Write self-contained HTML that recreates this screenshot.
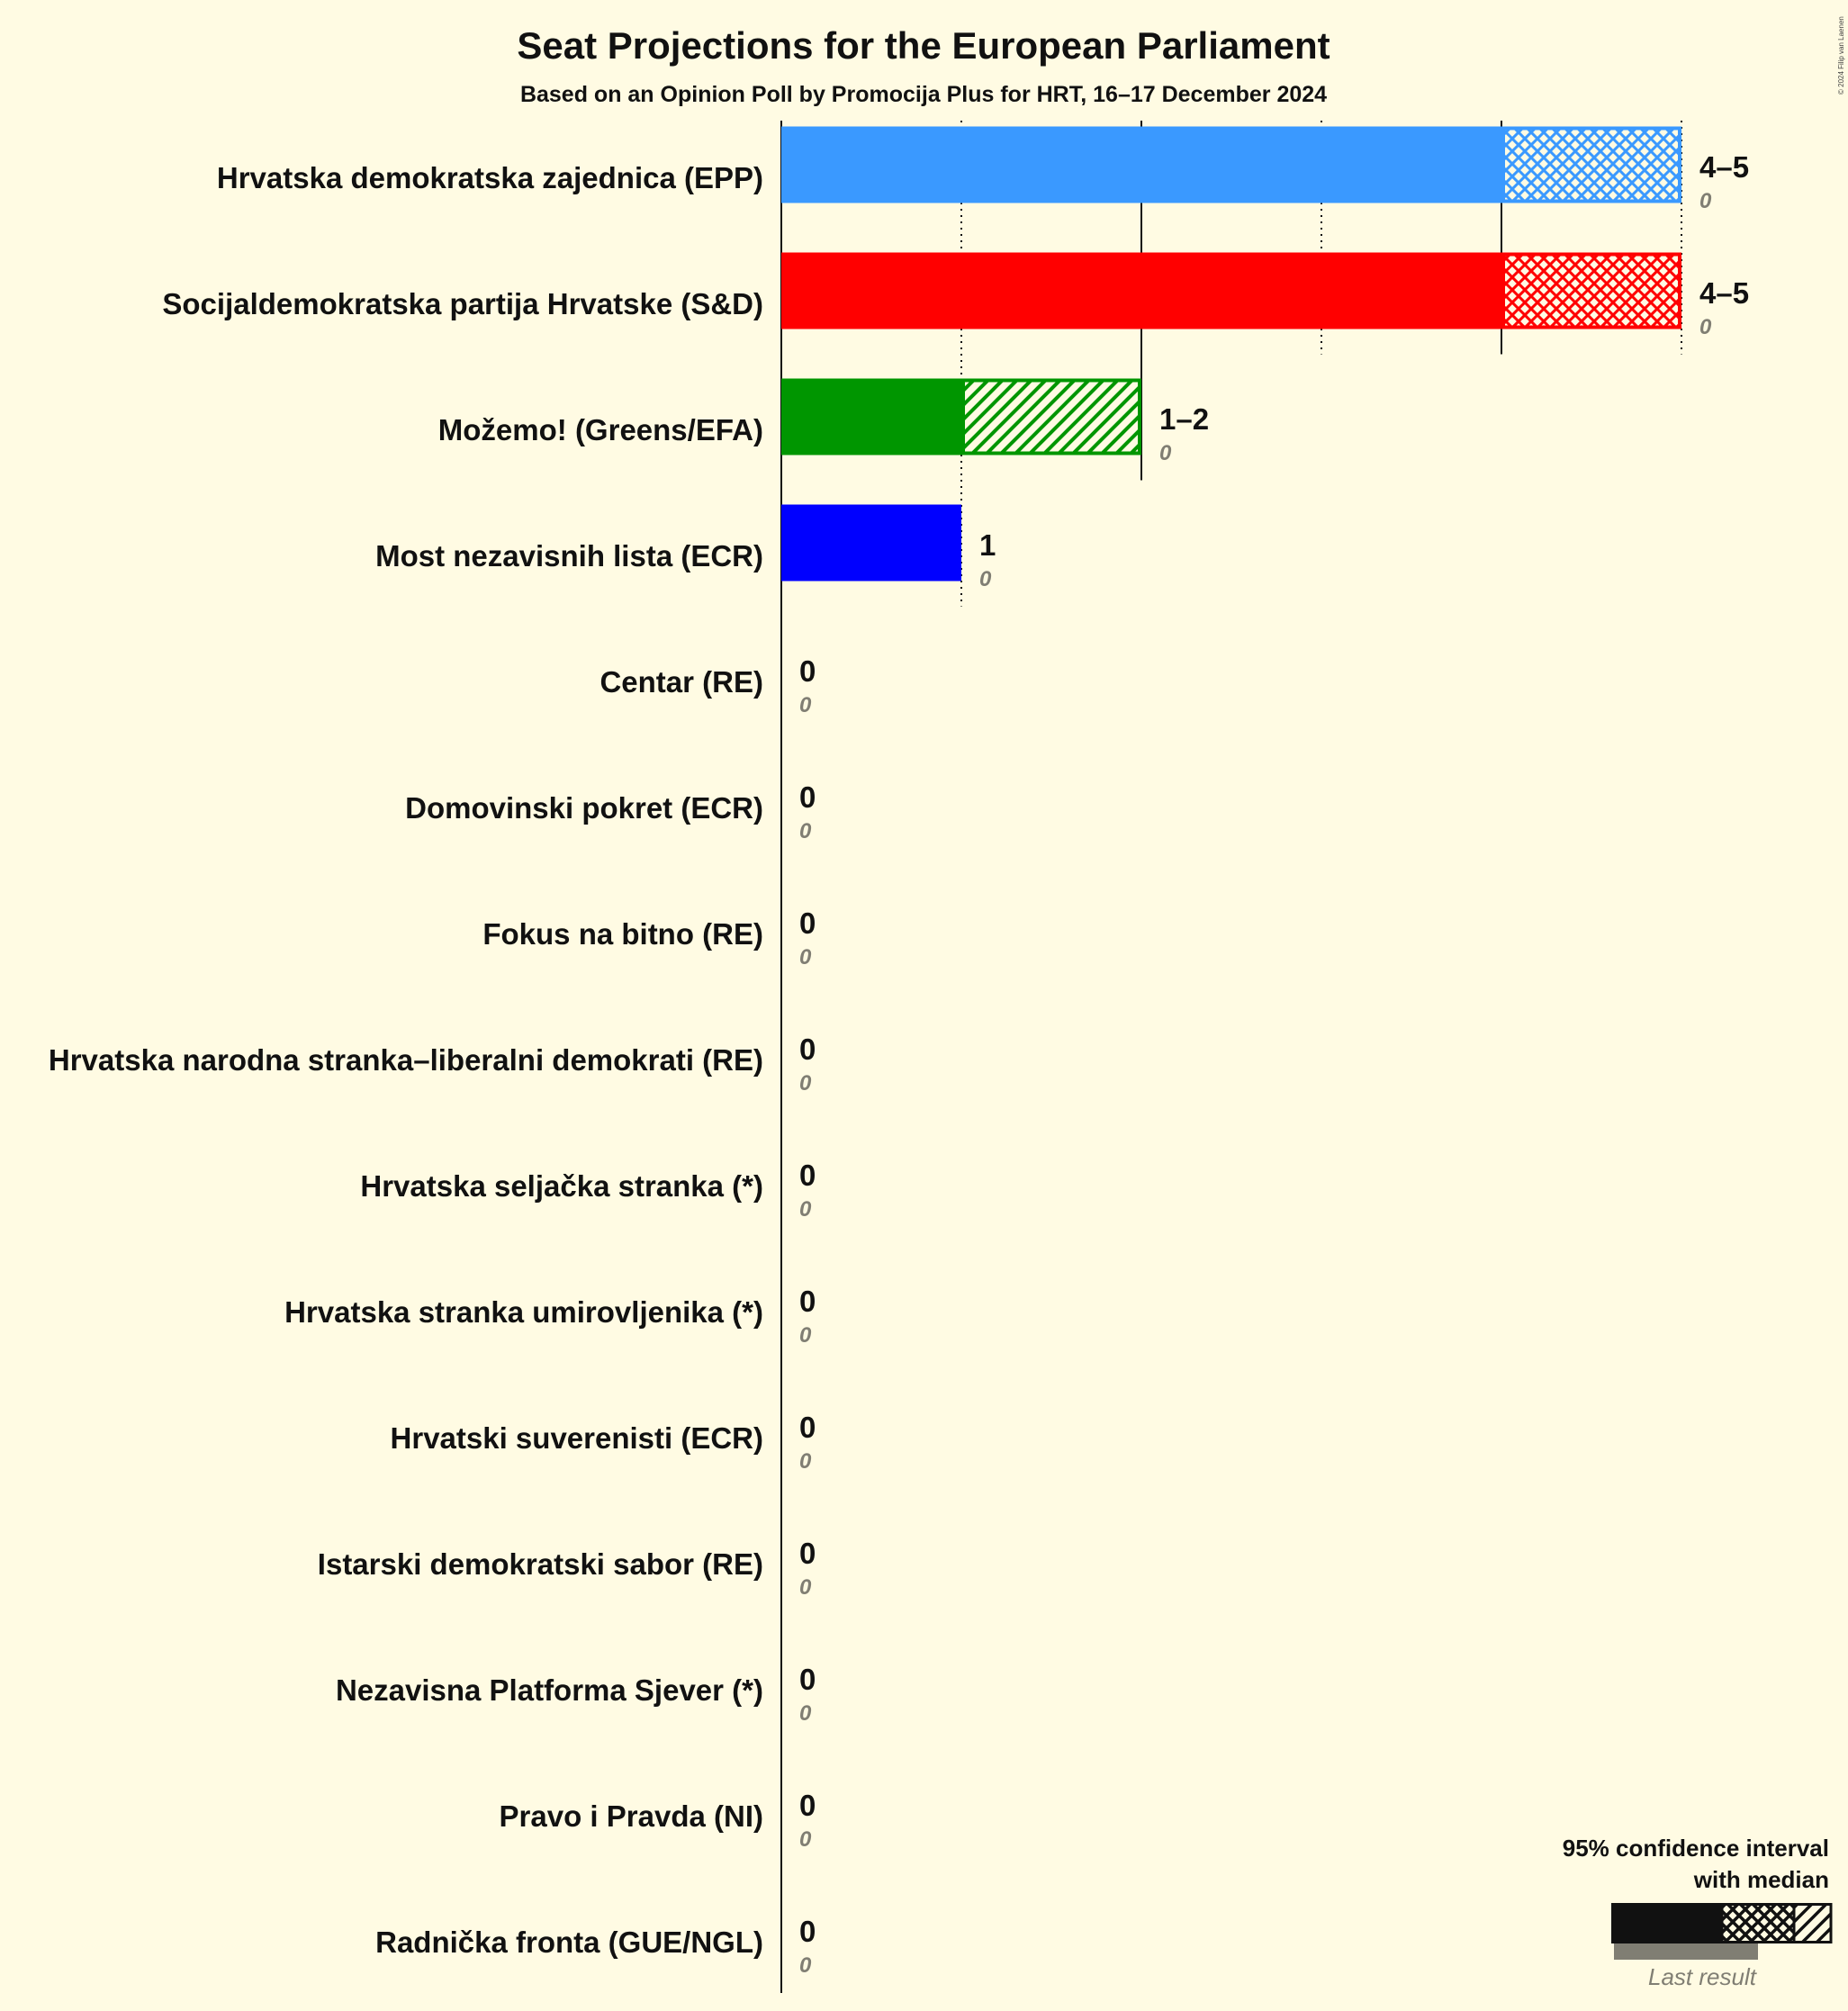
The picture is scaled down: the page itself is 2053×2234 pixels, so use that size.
<!DOCTYPE html>
<html><head><meta charset="utf-8"><style>
html,body{margin:0;padding:0;background:#fffbe3;}
svg{display:block;font-family:"Liberation Sans",sans-serif;}
</style></head><body>
<svg id="chart" width="2053" height="2234" viewBox="0 0 2053 2234">
<defs>
<pattern id="xh-blue" patternUnits="userSpaceOnUse" width="14" height="14"><rect width="14" height="14" fill="#fffbe3"/><path d="M0 0L14 14M14 0L0 14" stroke="#3a99ff" stroke-width="3"/></pattern>
<pattern id="xh-red" patternUnits="userSpaceOnUse" width="14" height="14"><rect width="14" height="14" fill="#fffbe3"/><path d="M0 0L14 14M14 0L0 14" stroke="#ff0000" stroke-width="3"/></pattern>
<pattern id="dh-green" patternUnits="userSpaceOnUse" width="16" height="16"><rect width="16" height="16" fill="#fffbe3"/><path d="M-4 20L20 -4M-4 4L4 -4M12 20L20 12" stroke="#009600" stroke-width="4"/></pattern>
<pattern id="xh-black" patternUnits="userSpaceOnUse" width="14" height="14"><rect width="14" height="14" fill="#fffbe3"/><path d="M0 0L14 14M14 0L0 14" stroke="#111" stroke-width="3.5"/></pattern>
<pattern id="dh-black" patternUnits="userSpaceOnUse" width="16" height="16"><rect width="16" height="16" fill="#fffbe3"/><path d="M-4 20L20 -4M-4 4L4 -4M12 20L20 12" stroke="#111" stroke-width="3.5"/></pattern>
</defs>
<rect width="2053" height="2234" fill="#fffbe3"/>
<text x="1026" y="65" text-anchor="middle" font-size="42" font-weight="bold" fill="#111">Seat Projections for the European Parliament</text>
<text x="1026" y="113" text-anchor="middle" font-size="25" font-weight="bold" fill="#111">Based on an Opinion Poll by Promocija Plus for HRT, 16–17 December 2024</text>
<text transform="translate(2048,105) rotate(-90)" font-size="8" fill="#444">© 2024 Filip van Laenen</text>
<g id="grid"></g>
<g id="bars"></g>
<g id="legend">
<text x="2032" y="2062" text-anchor="end" font-size="26" font-weight="bold" fill="#111">95% confidence interval</text>
<text x="2032" y="2097" text-anchor="end" font-size="26" font-weight="bold" fill="#111">with median</text>
<rect x="1793" y="2159" width="160" height="18" fill="#807e73"/>
<rect x="1790" y="2114" width="123" height="45" fill="#111"/>
<rect x="1913" y="2115.5" width="80" height="42" fill="url(#xh-black)" stroke="#111" stroke-width="3"/>
<rect x="1993" y="2115.5" width="41" height="42" fill="url(#dh-black)" stroke="#111" stroke-width="3"/>
<text x="1891" y="2205" text-anchor="middle" font-size="26" font-style="italic" fill="#807e73">Last result</text>
</g>
</svg>
<script>
const parties = ["Hrvatska demokratska zajednica (EPP)","Socijaldemokratska partija Hrvatske (S&D)","Možemo! (Greens/EFA)","Most nezavisnih lista (ECR)","Centar (RE)","Domovinski pokret (ECR)","Fokus na bitno (RE)","Hrvatska narodna stranka–liberalni demokrati (RE)","Hrvatska seljačka stranka (*)","Hrvatska stranka umirovljenika (*)","Hrvatski suverenisti (ECR)","Istarski demokratski sabor (RE)","Nezavisna Platforma Sjever (*)","Pravo i Pravda (NI)","Radnička fronta (GUE/NGL)"];
const lowSeats = [4,4,1,1,0,0,0,0,0,0,0,0,0,0,0];
const highSeats = [5,5,2,1,0,0,0,0,0,0,0,0,0,0,0];
const hatchType = ["cross","cross","diag","none","none","none","none","none","none","none","none","none","none","none","none"];
const lastResult = [0,0,0,0,0,0,0,0,0,0,0,0,0,0,0];
const rangeLabels = ["4–5","4–5","1–2","1","0","0","0","0","0","0","0","0","0","0","0"];
const colors = ["#3a99ff","#ff0000","#009600","#0000ff","#888","#888","#888","#888","#888","#888","#888","#888","#888","#888","#888"];
const ticks = [0,1,2,3,4,5];

const NS="http://www.w3.org/2000/svg";
const x0=868, seatW=200, rowY0=183, pitch=140, barH=85;
const xs=v=>x0+v*seatW;
const ys=i=>rowY0+i*pitch;
const grid=document.getElementById('grid'), bars=document.getElementById('bars');
function mk(tag,attrs,parent){const e=document.createElementNS(NS,tag);for(const k in attrs)e.setAttribute(k,attrs[k]);parent.appendChild(e);return e;}

ticks.forEach(t=>{
  if(t===0)return;
  let last=-1; highSeats.forEach((h,i)=>{if(h>=t)last=i;});
  if(last<0)return;
  const l=mk('line',{x1:xs(t),x2:xs(t),y1:134,y2:ys(last)+barH/2+28,stroke:'#111','stroke-width':2,'stroke-dasharray':t%2===0?'none':'2,5'},grid);
  
  
});
const ax=mk('line',{x1:x0,x2:x0,y1:134,y2:2214,stroke:'#111','stroke-width':2},grid);



parties.forEach((p,i)=>{
  const cy=ys(i), top=cy-barH/2;
  const lab=mk('text',{x:848,y:cy+26,'text-anchor':'end','font-size':33,'font-weight':'bold',fill:'#111'},bars);
  lab.textContent=p;
  
  
  if(lowSeats[i]>0){
    const r=mk('rect',{x:xs(0),y:top,width:xs(lowSeats[i])-xs(0),height:barH,fill:colors[i]},bars);
    
    
  }
  if(highSeats[i]>lowSeats[i]){
    const fill=hatchType[i]==='diag'?'url(#dh-green)':(i===0?'url(#xh-blue)':'url(#xh-red)');
    const r=mk('rect',{x:xs(lowSeats[i])+2,y:top+2,width:xs(highSeats[i])-xs(lowSeats[i])-4,height:barH-4,fill:fill,stroke:colors[i],'stroke-width':4},bars);
    
    
  }
  if(lastResult[i]>0){
    const r=mk('rect',{x:xs(0),y:top+barH,width:xs(lastResult[i])-xs(0),height:18,fill:'#807e73'},bars);
    
    
  }
  const vx=xs(highSeats[i])+20;
  const v=mk('text',{x:vx,y:cy+14,'font-size':33,'font-weight':'bold',fill:'#111'},bars);
  v.textContent=rangeLabels[i];
  
  
  const lr=mk('text',{x:vx,y:cy+48,'font-size':24,'font-style':'italic','font-weight':'bold',fill:'#807e73'},bars);
  lr.textContent=lastResult[i];
  
  
});
</script>
</body></html>
